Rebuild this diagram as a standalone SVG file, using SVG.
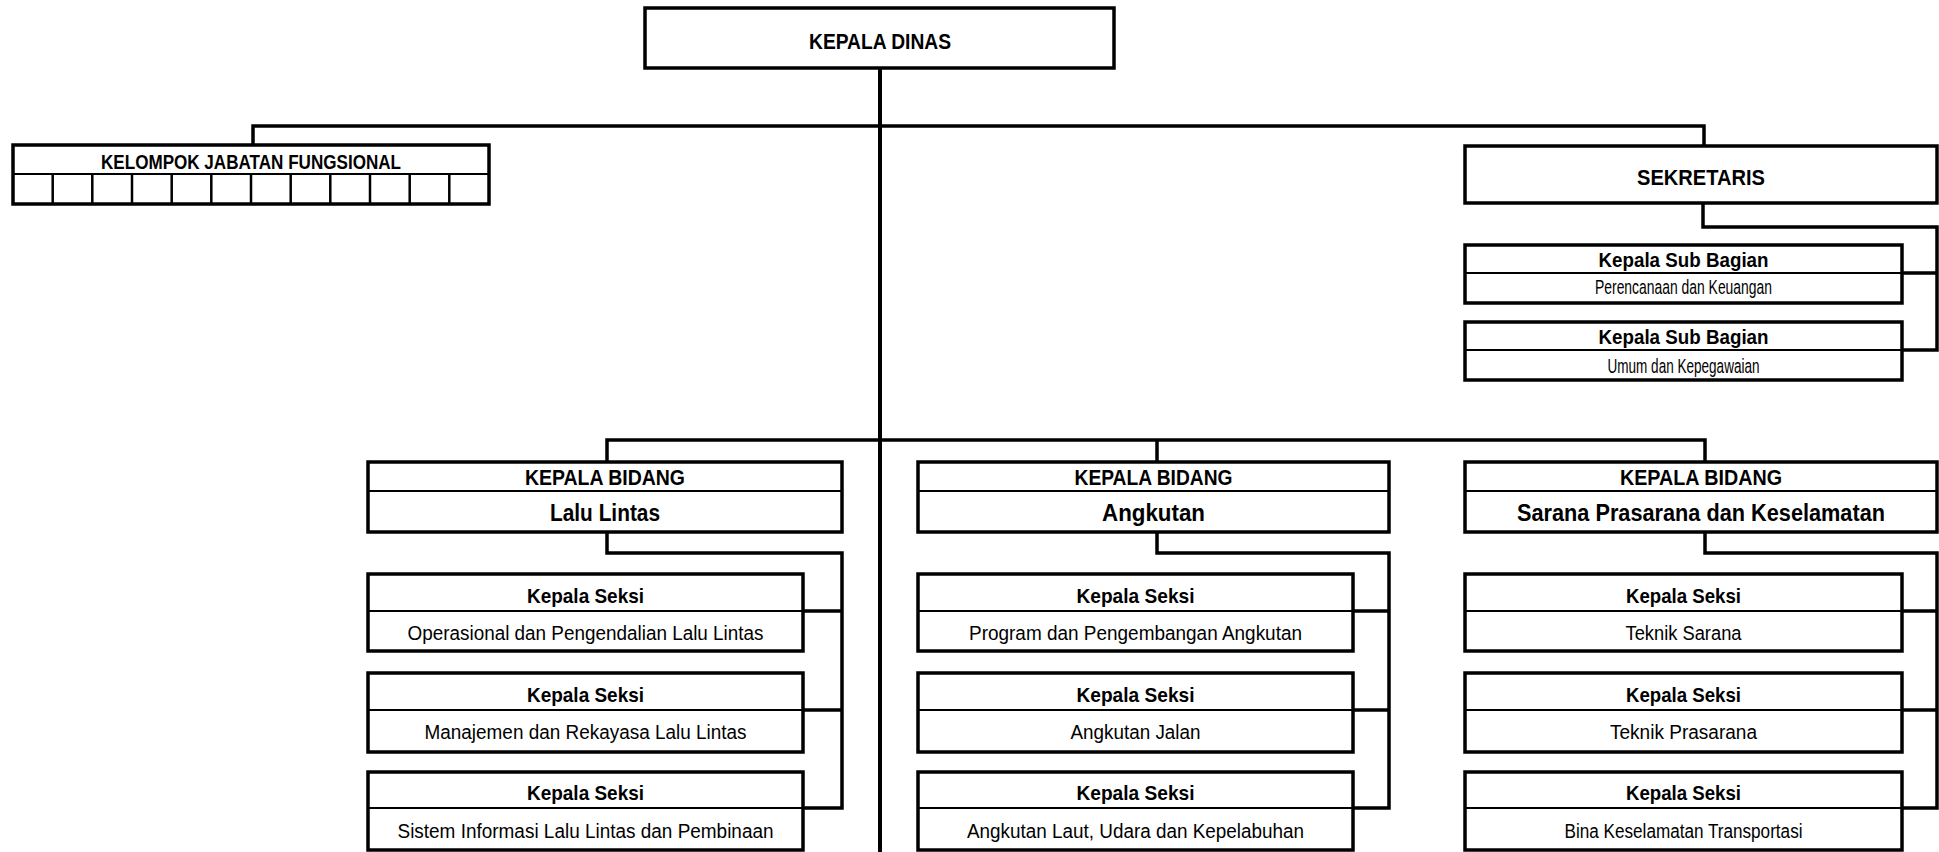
<svg xmlns="http://www.w3.org/2000/svg" width="1939" height="852" viewBox="0 0 1939 852">
  <style>
    .box { fill: #fff; stroke: #000; stroke-width: 3.5; }
    .row { stroke: #000; stroke-width: 2; }
    .cell { stroke: #000; stroke-width: 2.5; }
    .conn { fill: none; stroke: #000; stroke-width: 3.5; stroke-linejoin: miter; stroke-linecap: square; }
    .main { fill: none; stroke: #000; stroke-width: 4; }
    text { font-family: "Liberation Sans Narrow", "Liberation Sans", Arial, sans-serif; text-anchor: middle; fill: #000; }
    .b { font-weight: bold; }
    .head { font-size: 22.5px; }
    .kjf { font-size: 20px; }
    .t20 { font-size: 21px; }
    .t22 { font-size: 23px; }
    .sub { font-size: 20.5px; }
    .sek { font-size: 20px; }
  </style>

  <!-- connectors -->
  <g id="connectors">
    <path class="main" d="M880 68 V852"/>
    <path class="conn" d="M253 145 V126 H1704 V146"/>
    <path class="conn" d="M1703 203 V227 H1937 V350 M1902 273 H1937 M1902 350 H1937"/>
    <path class="conn" d="M607 462 V440 H1705 V462 M1157 440 V462"/>
    <path class="conn" d="M607 532 V553 H842 V808 M803 611 H842 M803 710 H842 M803 808 H842"/>
    <path class="conn" d="M1157 532 V553 H1389 V808 M1353 611 H1389 M1353 710 H1389 M1353 808 H1389"/>
    <path class="conn" d="M1705 532 V553 H1937 V808 M1902 611 H1937 M1902 710 H1937 M1902 808 H1937"/>
  </g>

  <!-- head of office -->
  <g id="kepala-dinas">
    <rect class="box" x="645" y="8" width="469" height="60"/>
    <text class="b head" x="880" y="49" textLength="142" lengthAdjust="spacingAndGlyphs">KEPALA DINAS</text>
  </g>

  <!-- functional group -->
  <g id="kelompok-jabatan-fungsional">
    <rect class="box" x="13" y="145" width="476" height="59"/>
    <line class="row" x1="13" y1="174" x2="489" y2="174"/>
    <path class="cell" d="M52.7 174 V204 M92.3 174 V204 M132 174 V204 M171.7 174 V204 M211.3 174 V204 M251 174 V204 M290.7 174 V204 M330.3 174 V204 M370 174 V204 M409.7 174 V204 M449.3 174 V204"/>
    <text class="b kjf" x="251" y="169" textLength="300" lengthAdjust="spacingAndGlyphs">KELOMPOK JABATAN FUNGSIONAL</text>
  </g>

  <!-- secretariat -->
  <g id="sekretaris">
    <rect class="box" x="1465" y="146" width="472" height="57"/>
    <text class="b head" x="1701" y="185" textLength="128" lengthAdjust="spacingAndGlyphs">SEKRETARIS</text>
  </g>
  <g id="subbag-perencanaan">
    <rect class="box" x="1465" y="245" width="437" height="58"/>
    <line class="row" x1="1465" y1="273" x2="1902" y2="273"/>
    <text class="b t20" x="1683.5" y="267" textLength="170" lengthAdjust="spacingAndGlyphs">Kepala Sub Bagian</text>
    <text class="sub" x="1683.5" y="294" textLength="177" lengthAdjust="spacingAndGlyphs">Perencanaan dan Keuangan</text>
  </g>
  <g id="subbag-umum">
    <rect class="box" x="1465" y="322" width="437" height="58"/>
    <line class="row" x1="1465" y1="350" x2="1902" y2="350"/>
    <text class="b t20" x="1683.5" y="344" textLength="170" lengthAdjust="spacingAndGlyphs">Kepala Sub Bagian</text>
    <text class="sub" x="1683.5" y="373" textLength="152" lengthAdjust="spacingAndGlyphs">Umum dan Kepegawaian</text>
  </g>

  <!-- division: traffic -->
  <g id="bidang-lalu-lintas">
    <rect class="box" x="368" y="462" width="474" height="70"/>
    <line class="row" x1="368" y1="491" x2="842" y2="491"/>
    <text class="b head" x="605" y="485" textLength="160" lengthAdjust="spacingAndGlyphs">KEPALA BIDANG</text>
    <text class="b t22" x="605" y="521" textLength="110" lengthAdjust="spacingAndGlyphs">Lalu Lintas</text>
  </g>
  <g id="seksi-operasional">
    <rect class="box" x="368" y="574" width="435" height="77"/>
    <line class="row" x1="368" y1="611" x2="803" y2="611"/>
    <text class="b t20" x="585.5" y="603" textLength="117" lengthAdjust="spacingAndGlyphs">Kepala Seksi</text>
    <text class="sek" x="585.5" y="640" textLength="356" lengthAdjust="spacingAndGlyphs">Operasional dan Pengendalian Lalu Lintas</text>
  </g>
  <g id="seksi-manajemen">
    <rect class="box" x="368" y="673" width="435" height="79"/>
    <line class="row" x1="368" y1="710" x2="803" y2="710"/>
    <text class="b t20" x="585.5" y="702" textLength="117" lengthAdjust="spacingAndGlyphs">Kepala Seksi</text>
    <text class="sek" x="585.5" y="739" textLength="322" lengthAdjust="spacingAndGlyphs">Manajemen dan Rekayasa Lalu Lintas</text>
  </g>
  <g id="seksi-sistem-informasi">
    <rect class="box" x="368" y="772" width="435" height="78"/>
    <line class="row" x1="368" y1="808" x2="803" y2="808"/>
    <text class="b t20" x="585.5" y="800" textLength="117" lengthAdjust="spacingAndGlyphs">Kepala Seksi</text>
    <text class="sek" x="585.5" y="838" textLength="376" lengthAdjust="spacingAndGlyphs">Sistem Informasi Lalu Lintas dan Pembinaan</text>
  </g>

  <!-- division: transport -->
  <g id="bidang-angkutan">
    <rect class="box" x="918" y="462" width="471" height="70"/>
    <line class="row" x1="918" y1="491" x2="1389" y2="491"/>
    <text class="b head" x="1153.5" y="485" textLength="158" lengthAdjust="spacingAndGlyphs">KEPALA BIDANG</text>
    <text class="b t22" x="1153.5" y="521" textLength="103" lengthAdjust="spacingAndGlyphs">Angkutan</text>
  </g>
  <g id="seksi-program">
    <rect class="box" x="918" y="574" width="435" height="77"/>
    <line class="row" x1="918" y1="611" x2="1353" y2="611"/>
    <text class="b t20" x="1135.5" y="603" textLength="118" lengthAdjust="spacingAndGlyphs">Kepala Seksi</text>
    <text class="sek" x="1135.5" y="640" textLength="333" lengthAdjust="spacingAndGlyphs">Program dan Pengembangan Angkutan</text>
  </g>
  <g id="seksi-angkutan-jalan">
    <rect class="box" x="918" y="673" width="435" height="79"/>
    <line class="row" x1="918" y1="710" x2="1353" y2="710"/>
    <text class="b t20" x="1135.5" y="702" textLength="118" lengthAdjust="spacingAndGlyphs">Kepala Seksi</text>
    <text class="sek" x="1135.5" y="739" textLength="130" lengthAdjust="spacingAndGlyphs">Angkutan Jalan</text>
  </g>
  <g id="seksi-angkutan-laut">
    <rect class="box" x="918" y="772" width="435" height="78"/>
    <line class="row" x1="918" y1="808" x2="1353" y2="808"/>
    <text class="b t20" x="1135.5" y="800" textLength="118" lengthAdjust="spacingAndGlyphs">Kepala Seksi</text>
    <text class="sek" x="1135.5" y="838" textLength="337" lengthAdjust="spacingAndGlyphs">Angkutan Laut, Udara dan Kepelabuhan</text>
  </g>

  <!-- division: infrastructure and safety -->
  <g id="bidang-sarana-prasarana">
    <rect class="box" x="1465" y="462" width="472" height="70"/>
    <line class="row" x1="1465" y1="491" x2="1937" y2="491"/>
    <text class="b head" x="1701" y="485" textLength="162" lengthAdjust="spacingAndGlyphs">KEPALA BIDANG</text>
    <text class="b t22" x="1701" y="521" textLength="368" lengthAdjust="spacingAndGlyphs">Sarana Prasarana dan Keselamatan</text>
  </g>
  <g id="seksi-teknik-sarana">
    <rect class="box" x="1465" y="574" width="437" height="77"/>
    <line class="row" x1="1465" y1="611" x2="1902" y2="611"/>
    <text class="b t20" x="1683.5" y="603" textLength="115" lengthAdjust="spacingAndGlyphs">Kepala Seksi</text>
    <text class="sek" x="1683.5" y="640" textLength="116" lengthAdjust="spacingAndGlyphs">Teknik Sarana</text>
  </g>
  <g id="seksi-teknik-prasarana">
    <rect class="box" x="1465" y="673" width="437" height="79"/>
    <line class="row" x1="1465" y1="710" x2="1902" y2="710"/>
    <text class="b t20" x="1683.5" y="702" textLength="115" lengthAdjust="spacingAndGlyphs">Kepala Seksi</text>
    <text class="sek" x="1683.5" y="739" textLength="147" lengthAdjust="spacingAndGlyphs">Teknik Prasarana</text>
  </g>
  <g id="seksi-bina-keselamatan">
    <rect class="box" x="1465" y="772" width="437" height="78"/>
    <line class="row" x1="1465" y1="808" x2="1902" y2="808"/>
    <text class="b t20" x="1683.5" y="800" textLength="115" lengthAdjust="spacingAndGlyphs">Kepala Seksi</text>
    <text class="sek" x="1683.5" y="838" textLength="238" lengthAdjust="spacingAndGlyphs">Bina Keselamatan Transportasi</text>
  </g>
</svg>
